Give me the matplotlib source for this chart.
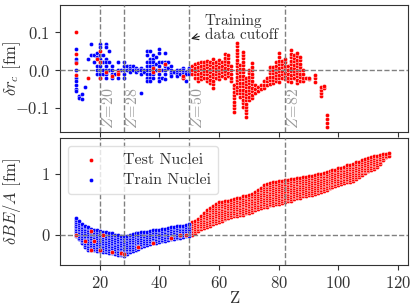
import numpy as np
import matplotlib
matplotlib.use("Agg")
import matplotlib.pyplot as plt

plt.rcParams['font.family'] = 'serif'
plt.rcParams['font.serif'] = ['cmr10', 'DejaVu Serif']
plt.rcParams['mathtext.fontset'] = 'cm'
plt.rcParams['axes.formatter.use_mathtext'] = True
plt.rcParams['font.size'] = 12

# ---------------- data: charge radius residuals (top panel) ----------------
# Train (blue) points for Z <= 50, per Z
radius_train = {
    12: [0.056, 0.03, 0.02, 0.0, -0.02, -0.03, -0.04, -0.05, -0.055],
    13: [-0.068, -0.075], 14: [-0.065, -0.078], 15: [-0.045], 16: [0.03],
    17: [0.07, 0.04], 18: [0.04, 0.02],
    19: [0.045, 0.035, 0.01, 0.0, -0.01],
    20: [0.07, 0.06, 0.04, 0.03, 0.02, 0.01, 0.0, -0.01, -0.02],
    21: [0.04, 0.02, 0.0, -0.01],
    22: [0.07, 0.06, 0.03, 0.02, 0.01, 0.0, -0.01, -0.02],
    23: [0.05, 0.02, 0.0], 24: [0.0, 0.01, -0.02, -0.01], 25: [-0.01],
    26: [0.02, 0.0, -0.01, -0.02], 27: [0.0],
    28: [0.02, 0.01, 0.0, -0.01, -0.02], 29: [0.01, 0.0],
    30: [0.01, 0.005, 0.0, -0.005], 31: [0.01, 0.0], 32: [0.005, 0.0, -0.005],
    33: [0.0], 34: [0.005, 0.0, -0.01, -0.062], 35: [0.0, -0.005],
    36: [0.05, 0.04, 0.02, 0.01, 0.0, -0.01, -0.02, -0.03],
    37: [0.05, 0.03, 0.02, 0.01, 0.0, -0.01, -0.02, -0.03],
    38: [0.04, 0.03, 0.02, 0.01, 0.0, -0.01, -0.02],
    39: [0.035, 0.015, 0.0],
    40: [0.055, 0.045, 0.02, 0.01, 0.0, -0.01, -0.02, -0.03],
    41: [0.02, 0.0, -0.02],
    42: [0.045, 0.02, 0.015, 0.01, 0.0, -0.01, -0.025],
    43: [0.02, 0.005], 44: [0.01, 0.0, -0.005, -0.01, -0.015], 45: [-0.005],
    46: [0.0, -0.005, -0.01, -0.015], 47: [0.0, -0.01],
    48: [0.005, 0.0, -0.005, -0.01, -0.015, -0.02],
    49: [-0.005, -0.01, -0.03], 50: [0.005, 0.0, -0.005, -0.01],
}
# Test (red) points mixed into Z <= 50
radius_test_low = {
    12: [0.10, 0.042, 0.018, -0.014], 16: [-0.02], 19: [0.03],
    20: [0.05, 0.02, -0.02], 22: [-0.005], 24: [-0.015], 26: [-0.005, -0.01],
    38: [0.005, -0.005], 40: [0.0], 42: [0.015], 48: [-0.02, -0.015],
}
# Test (red) columns for Z > 50: (low, high) of each column
radius_test_Z = [51, 52, 53, 54, 55, 56, 57, 58, 59, 60, 61, 62, 63, 64, 65, 66,
                 67, 68, 69, 70, 71, 72, 73, 74, 75, 76, 77, 78, 79, 80, 81, 82,
                 83, 84, 85, 86, 87, 88, 89, 90, 92, 94, 95, 96]
radius_test_lo = [-0.01, -0.02, -0.03, -0.025, -0.02, -0.03, -0.035, -0.048,
                  -0.02, -0.025, -0.015, -0.02, -0.016, -0.03, -0.111, -0.062,
                  -0.071, -0.098, -0.124, -0.08, -0.075, -0.06, -0.055, -0.05,
                  -0.048, -0.04, -0.036, -0.035, -0.03, -0.031, -0.02, -0.025,
                  -0.03, -0.031, -0.02, -0.035, -0.028, -0.03, -0.022, -0.025,
                  -0.031, -0.069, -0.049, -0.151]
radius_test_hi = [0.01, 0.015, 0.018, 0.02, 0.022, 0.025, 0.022, 0.028,
                  0.022, 0.026, 0.02, 0.042, 0.04, 0.01, -0.04, 0.072,
                  0.013, 0.049, -0.02, 0.0, 0.018, -0.04, -0.045, -0.04,
                  -0.03, -0.02, 0.009, 0.009, 0.02, 0.044, 0.025, 0.03,
                  0.01, 0.053, 0.04, 0.045, 0.035, 0.0, -0.022, -0.02,
                  -0.013, -0.044, -0.043, -0.12]

# ---------------- data: binding energy residuals (bottom panel) ----------------
be_Z = list(range(12, 119))
be_hi = [0.27, 0.22, 0.18, 0.15, 0.13, 0.10, 0.08, 0.07, 0.06, 0.05, 0.04, 0.03,
         0.02, 0.0, -0.01, -0.02, -0.03, -0.02, 0.0, 0.01, 0.02, 0.03, 0.04, 0.04,
         0.05, 0.06, 0.07, 0.07, 0.08, 0.09, 0.10, 0.11, 0.12, 0.13, 0.14, 0.15,
         0.15, 0.16, 0.18,
         0.20, 0.22, 0.26, 0.30, 0.36, 0.40, 0.44, 0.47, 0.50, 0.53, 0.54, 0.55,
         0.56, 0.57, 0.58, 0.60, 0.61, 0.63, 0.64, 0.65, 0.67, 0.70, 0.73, 0.77,
         0.81, 0.84, 0.85, 0.86, 0.87, 0.88, 0.89, 0.90, 0.90, 0.91, 0.92, 0.93,
         0.93, 0.94, 0.95, 0.96, 0.97, 0.98, 0.99, 1.00, 1.02, 1.03, 1.04, 1.06,
         1.07, 1.09, 1.10, 1.12, 1.14, 1.15, 1.17, 1.19, 1.20, 1.22, 1.24, 1.26,
         1.28, 1.29, 1.30, 1.31, 1.32, 1.33, 1.34]
be_lo = [-0.03, -0.08, -0.14, -0.20, -0.25, -0.26, -0.26, -0.27, -0.27, -0.28,
         -0.29, -0.30, -0.31, -0.32, -0.33, -0.34, -0.35, -0.32, -0.29, -0.27,
         -0.25, -0.23, -0.21, -0.19, -0.17, -0.16, -0.14, -0.13, -0.12, -0.11,
         -0.10, -0.09, -0.08, -0.07, -0.06, -0.05, -0.04, -0.03, -0.02,
         0.00, 0.03, 0.06, 0.09, 0.11, 0.13, 0.15, 0.17, 0.19, 0.21, 0.23, 0.25,
         0.27, 0.29, 0.30, 0.31, 0.32, 0.33, 0.35, 0.36, 0.38, 0.40, 0.42, 0.44,
         0.45, 0.46, 0.48, 0.49, 0.50, 0.51, 0.52, 0.54, 0.55, 0.56, 0.58, 0.60,
         0.61, 0.63, 0.64, 0.65, 0.66, 0.67, 0.68, 0.70, 0.72, 0.74, 0.76, 0.78,
         0.80, 0.82, 0.84, 0.85, 0.86, 0.87, 0.89, 0.92, 0.95, 0.98, 1.01, 1.04,
         1.06, 1.08, 1.12, 1.16, 1.22, 1.27, 1.30, 1.34]
# a few test nuclei inside the training region (bottom panel)
be_test_low_Z = [12, 15, 17, 17, 18, 20, 21, 24, 27, 28, 33, 38, 44, 47, 49]
be_test_low_v = [0.0, -0.1, 0.06, -0.25, -0.1, -0.25, 0.0, -0.28, -0.3,
                 -0.32, -0.2, -0.13, -0.05, 0.0, 0.0]

magic = [20, 28, 50, 82]
train_cutoff = 50


def column_points(Zs, lo, hi, step):
    xs, ys = [], []
    for z, a, b in zip(Zs, lo, hi):
        n = int(round((b - a) / step)) + 1
        vals = np.linspace(a, b, n) if n > 1 else np.array([a])
        xs.extend([z] * len(vals))
        ys.extend(vals)
    return np.array(xs), np.array(ys)


fig = plt.figure(figsize=(4.15, 3.07), dpi=100)
W, H = 415, 307
ax1 = fig.add_axes([60 / W, 1 - 132 / H, 348 / W, 127 / H])
ax2 = fig.add_axes([60 / W, 1 - 265 / H, 348 / W, 127 / H], sharex=ax1)

mk = dict(s=9, edgecolors='white', linewidths=0.3, zorder=2)

# top panel
tx = [z for z, v in radius_train.items() for _ in v]
ty = [y for v in radius_train.values() for y in v]
rx = [z for z, v in radius_test_low.items() for _ in v]
ry = [y for v in radius_test_low.values() for y in v]
cx, cy = column_points(radius_test_Z, radius_test_lo, radius_test_hi, 0.009)
ax1.scatter(tx, ty, color='blue', **mk)
ax1.scatter(list(rx) + list(cx), list(ry) + list(cy), color='red', **mk)

# bottom panel
bx, by = column_points(be_Z, be_lo, be_hi, 0.03)
train_mask = bx <= train_cutoff
ax2.scatter(bx[~train_mask], by[~train_mask], color='red', label='Test Nuclei', **mk)
ax2.scatter(bx[train_mask], by[train_mask], color='blue', label='Train Nuclei', **mk)
ax2.scatter(be_test_low_Z, be_test_low_v, color='red', **mk)

for ax in (ax1, ax2):
    for z in magic:
        ax.axvline(z, color='0.5', ls='--', lw=1.0, zorder=3)
    ax.axhline(0, color='0.5', ls='--', lw=1.0, zorder=3)
    for sp in ax.spines.values():
        sp.set_color('0.2')
    ax.tick_params(colors='0.2', labelcolor='0.2', length=3.5, width=0.8,
                   labelsize=12)

for z in magic:
    ax1.text(z + 0.4, -0.157, r'$Z\!=\!%d$' % z, rotation=90, color='0.6',
             ha='left', va='bottom', fontsize=11.5)

ax1.annotate('Training\ndata cutoff', xy=(50.6, 0.083), xytext=(55.2, 0.112),
             ha='left', va='center', multialignment='left', color='0.2',
             fontsize=11, linespacing=0.95,
             arrowprops=dict(arrowstyle='->', color='0.1', lw=0.8,
                             relpos=(0.0, 0.25), shrinkA=2, shrinkB=0))

ax1.set_xlim(6.7, 123.3)
ax1.set_ylim(-0.165, 0.173)
ax1.set_yticks([-0.1, 0.0, 0.1])
ax1.tick_params(axis='x', labelbottom=False)
ax1.set_ylabel(r'$\delta r_c$ [fm]', color='0.2', fontsize=12)

ax2.set_ylim(-0.5, 1.59)
ax2.set_yticks([0, 1])
ax2.set_xticks([20, 40, 60, 80, 100, 120])
ax2.set_xlabel('Z', color='0.2', labelpad=0, fontsize=12)
ax2.set_ylabel(r'$\delta BE/A$ [fm]', color='0.2', fontsize=12)
ax1.yaxis.set_label_coords(-0.105, 0.5)
ax2.yaxis.set_label_coords(-0.105, 0.5)
leg = ax2.legend(loc='upper left', fontsize=11.5, markerscale=1.0,
                 handletextpad=1.0, borderpad=0.45, labelspacing=0.35,
                 framealpha=0.8, edgecolor='0.85', fancybox=True)
for t in leg.get_texts():
    t.set_color('0.2')

fig.savefig('out.png', dpi=100)
